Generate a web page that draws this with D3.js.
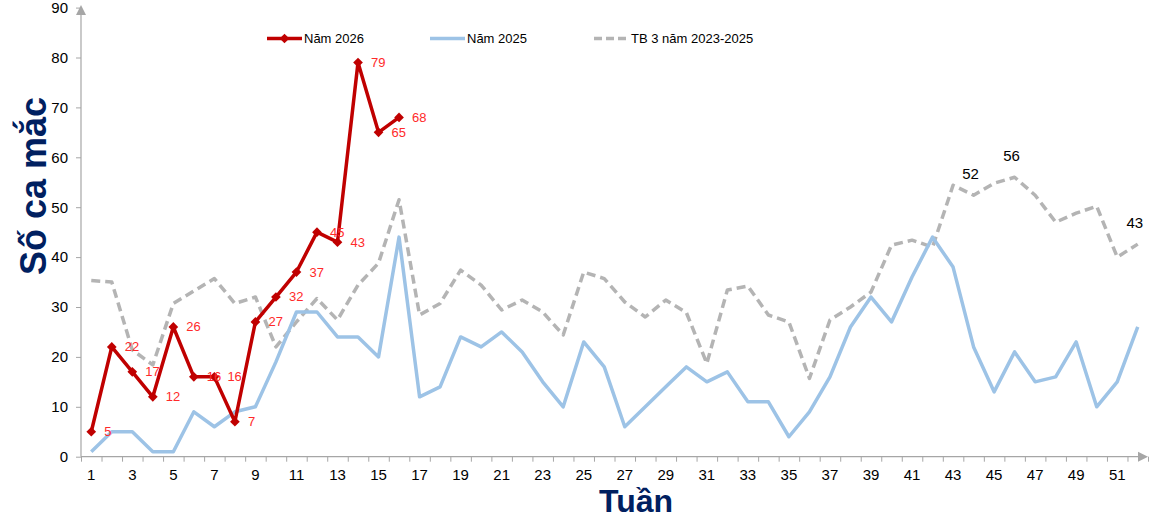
<!DOCTYPE html>
<html>
<head>
<meta charset="utf-8">
<script src="https://cdn.jsdelivr.net/npm/d3@7"></script>
<style>
  html, body { margin: 0; padding: 0; background: #fff; }
  svg { display: block; font-family: "Liberation Sans", Arial, sans-serif; }
</style>
</head>
<body>
<svg id="chart" width="1166" height="519"></svg>
<script>
// ---- Data ----
const weeks = d3.range(1, 53);
const xTickLabels = d3.range(1, 53, 2);
const yTicks = [0, 10, 20, 30, 40, 50, 60, 70, 80, 90];

const seriesNames = ["Năm 2026", "Năm 2025", "TB 3 năm 2023-2025"];

const y2026 = [5, 22, 17, 12, 26, 16, 16, 7, 27, 32, 37, 45, 43, 79, 65, 68];

const y2025 = [1, 5, 5, 1, 1, 9, 6, 9, 10, 19, 29, 29, 24, 24, 20, 44, 12, 14,
  24, 22, 25, 21, 15, 10, 23, 18, 6, 10, 14, 18, 15, 17, 11, 11, 4, 9,
  16, 26, 32, 27, 36, 44, 38, 22, 13, 21, 15, 16, 23, 10, 15, 26];

const yAvg = [35.3, 35, 21.4, 18.4, 30.7, 33.2, 35.7, 30.7, 32, 22, 27, 31.7, 27.4, 34.4, 38.8, 51.5, 28.4, 30.7,
  37.4, 34.4, 29.4, 31.4, 29, 24.4, 37, 35.7, 31, 28, 31.4, 28.9, 18.7, 33.4, 34.2, 28.4, 27, 15.7,
  27.4, 30, 33, 42.4, 43.4, 42, 54.4, 52.4, 54.8, 56, 52.4, 47, 48.8, 50.2, 40, 42.6];

const avgLabelWeeks = [44, 46, 52];
const avgLabelTexts = ["52", "56", "43"];

// ---- Layout ----
const svg = d3.select("#chart");
const plotLeft = 81, plotRight = 1148, plotTop = 7.6, plotBottom = 456.7;
const axisColor = "#a6a6a6";

const x = d3.scaleLinear().domain([0.5, 52.5]).range([plotLeft, plotRight]);
const y = d3.scaleLinear().domain([0, 90]).range([plotBottom, plotTop]);

// ---- Axes ----
const yAxis = d3.axisLeft(y).tickValues(yTicks).tickSize(5).tickSizeOuter(0).tickPadding(8);
const gy = svg.append("g").attr("transform", `translate(${plotLeft},0)`).call(yAxis);
gy.select(".domain").remove();
gy.selectAll(".tick line").attr("stroke", axisColor).attr("stroke-width", 1);
gy.selectAll(".tick text").attr("fill", "#000").style("font-size", "15px")
  .style("font-family", "'Liberation Sans', Arial, sans-serif");
svg.append("line").attr("x1", plotLeft).attr("x2", plotLeft).attr("y1", plotBottom).attr("y2", 14)
  .attr("stroke", axisColor).attr("stroke-width", 1.2);
svg.append("path")
  .attr("d", `M${plotLeft - 5},${15} L${plotLeft},${5} L${plotLeft + 5},${15} Z`)
  .attr("fill", axisColor);

const boundaryTicks = d3.range(0.5, 53, 1);
const xAxis = d3.axisBottom(x).tickValues(boundaryTicks).tickSize(5).tickFormat("").tickSizeOuter(0);
const gx = svg.append("g").attr("transform", `translate(0,${plotBottom})`).call(xAxis);
gx.select(".domain").remove();
gx.selectAll(".tick line").attr("stroke", axisColor).attr("stroke-width", 1);
svg.append("line").attr("x1", plotLeft).attr("x2", plotRight - 8).attr("y1", plotBottom).attr("y2", plotBottom)
  .attr("stroke", axisColor).attr("stroke-width", 1.2);
svg.append("path")
  .attr("d", `M${plotRight - 10},${plotBottom - 5} L${plotRight},${plotBottom} L${plotRight - 10},${plotBottom + 5} Z`)
  .attr("fill", axisColor);

svg.append("g").selectAll("text").data(xTickLabels).join("text")
  .attr("x", d => x(d)).attr("y", plotBottom + 22.8)
  .attr("text-anchor", "middle")
  .style("font-size", "15px").attr("fill", "#000")
  .text(d => d);

svg.append("text")
  .attr("transform", `translate(46,186) rotate(-90)`)
  .attr("text-anchor", "middle")
  .style("font-size", "36px").style("font-weight", "bold")
  .attr("fill", "#002060")
  .text("Số ca mắc");
svg.append("text")
  .attr("x", 636).attr("y", 512)
  .attr("text-anchor", "middle")
  .style("font-size", "32px").style("font-weight", "bold")
  .attr("fill", "#002060")
  .text("Tuần");

// ---- Lines ----
const line = d3.line().x((d, i) => x(i + 1)).y(d => y(d));

svg.append("path").datum(yAvg)
  .attr("d", line).attr("fill", "none")
  .attr("stroke", "#b4b4b4").attr("stroke-width", 3.5)
  .attr("stroke-dasharray", "9,5").attr("stroke-linejoin", "round");

svg.append("path").datum(y2025)
  .attr("d", line).attr("fill", "none")
  .attr("stroke", "#9dc3e6").attr("stroke-width", 3.5)
  .attr("stroke-linejoin", "round");

svg.append("path").datum(y2026)
  .attr("d", line).attr("fill", "none")
  .attr("stroke", "#c00000").attr("stroke-width", 3.5)
  .attr("stroke-linejoin", "round");

const diamond = d3.symbol().type(d3.symbolDiamond2).size(60);
svg.append("g").selectAll("path").data(y2026).join("path")
  .attr("d", diamond)
  .attr("transform", (d, i) => `translate(${x(i + 1)},${y(d)})`)
  .attr("fill", "#c00000");

svg.append("g").selectAll("text").data(y2026).join("text")
  .attr("x", (d, i) => x(i + 1) + 13)
  .attr("y", d => y(d) + 1)
  .attr("dominant-baseline", "middle")
  .style("font-size", "13px").attr("fill", "#ff2a2a")
  .text(d => d);

svg.append("g").selectAll("text").data(avgLabelWeeks).join("text")
  .attr("x", d => x(d) - 3)
  .attr("y", (d, i) => y(yAvg[d - 1]) - 16)
  .attr("text-anchor", "middle")
  .style("font-size", "15px").attr("fill", "#000")
  .text((d, i) => avgLabelTexts[i]);

// ---- Legend ----
const legend = svg.append("g").style("font-size", "13px");
const legendX = [267, 430, 594];
const legendY = 38.5;
legend.append("line").attr("x1", legendX[0]).attr("x2", legendX[0] + 35)
  .attr("y1", legendY).attr("y2", legendY).attr("stroke", "#c00000").attr("stroke-width", 3.5);
legend.append("path").attr("d", diamond)
  .attr("transform", `translate(${legendX[0] + 17.5},${legendY})`).attr("fill", "#c00000");
legend.append("line").attr("x1", legendX[1]).attr("x2", legendX[1] + 35)
  .attr("y1", legendY).attr("y2", legendY).attr("stroke", "#9dc3e6").attr("stroke-width", 3.5);
legend.append("line").attr("x1", legendX[2]).attr("x2", legendX[2] + 35)
  .attr("y1", legendY).attr("y2", legendY).attr("stroke", "#b4b4b4").attr("stroke-width", 3.5)
  .attr("stroke-dasharray", "8,4");
legend.selectAll("text.lg").data(seriesNames).join("text")
  .attr("class", "lg")
  .attr("x", (d, i) => legendX[i] + 37)
  .attr("y", legendY + 1)
  .attr("dominant-baseline", "middle")
  .attr("fill", "#000")
  .text(d => d);
</script>
</body>
</html>
